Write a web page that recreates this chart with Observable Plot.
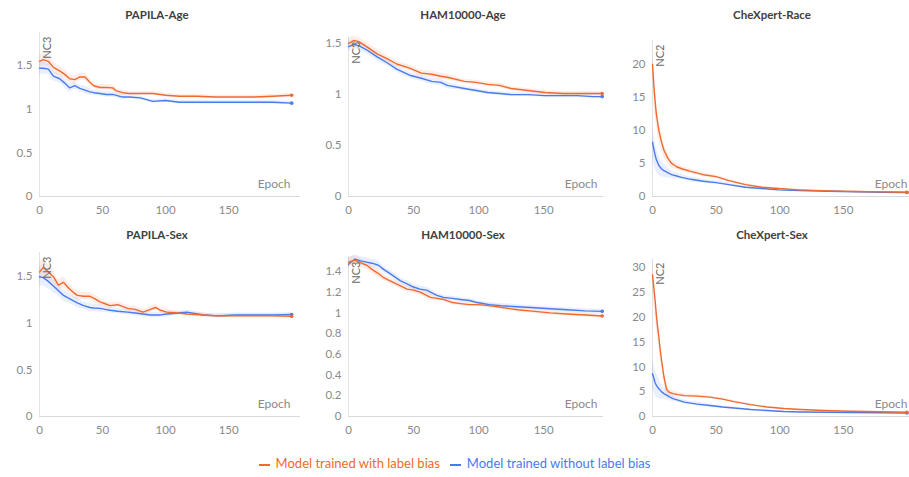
<!DOCTYPE html>
<html>
<head>
<meta charset="utf-8">
<script src="https://cdn.jsdelivr.net/npm/d3@7"></script>
<script src="https://cdn.jsdelivr.net/npm/@observablehq/plot@0.6"></script>
<style>
  html, body { margin: 0; padding: 0; background: #fff; }
  #wrap { position: relative; width: 909px; height: 477px; font-family: Lato, "Open Sans", sans-serif; overflow: hidden; }
  .panel { position: absolute; }
  .title { position: absolute; transform: translateX(-50%); font-weight: bold; font-size: 11.5px; color: #404040; white-space: nowrap; }
  #legend { position: absolute; left: 0; width: 909px; top: 455px; text-align: center; font-size: 13px; white-space: nowrap; }
  #legend span.item { margin: 0 5px; }
  #legend span.dash { display: inline-block; width: 11px; height: 2px; vertical-align: middle; margin-right: 6px; }
</style>
</head>
<body>
<div id="wrap"></div>
<script>
// ---------------- data ----------------
const seriesNames = ["Model trained with label bias", "Model trained without label bias"];
const titles = ["PAPILA-Age", "HAM10000-Age", "CheXpert-Race", "PAPILA-Sex", "HAM10000-Sex", "CheXpert-Sex"];
const yLabels = ["NC3", "NC3", "NC2", "NC3", "NC3", "NC2"];

// PAPILA-Age
const epochsPapilaAge = [0,3,7,11,16,20,24,28,32,36,40,43,48,53,58,61,66,71,80,90,100,111,125,140,156,170,185,200];
const biasPapilaAge   = [1.55,1.57,1.55,1.48,1.44,1.40,1.35,1.34,1.37,1.37,1.31,1.27,1.25,1.25,1.245,1.21,1.19,1.18,1.18,1.18,1.16,1.15,1.15,1.14,1.14,1.14,1.15,1.16];
const cleanPapilaAge  = [1.47,1.47,1.46,1.38,1.35,1.30,1.245,1.27,1.24,1.22,1.20,1.19,1.18,1.17,1.17,1.16,1.14,1.14,1.13,1.09,1.10,1.08,1.08,1.08,1.08,1.08,1.08,1.07];
const spreadPapilaAge = [0.08,0.07,0.06,0.06,0.05,0.05,0.05,0.04,0.04,0.04,0.04,0.03,0.03,0.03,0.03,0.03,0.03,0.02,0.02,0.02,0.02,0.02,0.02,0.02,0.02,0.02,0.02,0.02];

// HAM10000-Age
const epochsHamAge = [0,4,8,15,22,30,37,47,56,64,71,76,89,98,107,116,125,138,151,165,176,188,195];
const biasHamAge   = [1.50,1.53,1.52,1.46,1.40,1.35,1.30,1.26,1.21,1.20,1.18,1.17,1.13,1.12,1.10,1.09,1.06,1.04,1.02,1.01,1.01,1.01,1.01];
const cleanHamAge  = [1.47,1.49,1.48,1.43,1.37,1.31,1.25,1.19,1.16,1.13,1.12,1.09,1.06,1.04,1.02,1.01,1.00,1.00,0.99,0.99,0.99,0.98,0.98];
const spreadHamAge = [0.05,0.04,0.04,0.04,0.04,0.03,0.03,0.03,0.03,0.03,0.03,0.03,0.02,0.02,0.02,0.02,0.02,0.02,0.02,0.02,0.02,0.02,0.02];

// CheXpert-Race
const epochsCheRace = [0,1,2,3,5,7,9,12,15,19,23,30,40,50,60,73,86,99,115,138,160,180,200];
const biasCheRace   = [20,17,14.5,12.5,10,8.3,7,5.8,5.0,4.5,4.2,3.8,3.3,3.0,2.4,1.8,1.4,1.2,1.0,0.85,0.75,0.7,0.65];
const cleanCheRace  = [8.2,7.2,6.3,5.6,4.7,4.2,3.9,3.6,3.3,3.1,2.9,2.6,2.3,2.1,1.8,1.4,1.2,1.0,0.9,0.8,0.7,0.65,0.6];
const spreadCheRace = [2.5,2.2,2.0,1.8,1.5,1.2,1.0,0.8,0.6,0.5,0.4,0.35,0.3,0.25,0.2,0.15,0.12,0.1,0.1,0.08,0.08,0.08,0.08];

// PAPILA-Sex
const epochsPapilaSex = [0,3,7,11,15,19,23,27,30,35,40,43,48,52,56,62,70,76,82,88,92,96,101,110,117,130,141,155,167,185,200];
const biasPapilaSex   = [1.55,1.60,1.55,1.50,1.41,1.44,1.38,1.33,1.30,1.29,1.29,1.27,1.23,1.21,1.19,1.20,1.16,1.15,1.12,1.15,1.17,1.14,1.12,1.11,1.10,1.09,1.08,1.08,1.08,1.08,1.075];
const cleanPapilaSex  = [1.50,1.49,1.45,1.40,1.35,1.30,1.27,1.24,1.22,1.19,1.17,1.165,1.16,1.15,1.14,1.13,1.12,1.11,1.10,1.09,1.09,1.09,1.10,1.11,1.12,1.09,1.08,1.09,1.09,1.09,1.095];
const spreadPapilaSex = [0.10,0.09,0.08,0.07,0.06,0.06,0.05,0.05,0.05,0.04,0.04,0.04,0.04,0.03,0.03,0.03,0.03,0.03,0.03,0.03,0.03,0.03,0.03,0.02,0.02,0.02,0.02,0.02,0.02,0.02,0.02];

// HAM10000-Sex
const epochsHamSex = [0,5,10,14,18,23,27,32,40,45,50,55,60,63,68,73,80,86,93,99,108,117,130,143,155,168,182,195];
const biasHamSex   = [1.49,1.51,1.48,1.46,1.42,1.38,1.34,1.31,1.26,1.23,1.22,1.20,1.17,1.15,1.14,1.13,1.10,1.09,1.08,1.08,1.07,1.055,1.03,1.015,1.00,0.99,0.98,0.97];
const cleanHamSex  = [1.47,1.52,1.50,1.49,1.48,1.46,1.42,1.38,1.31,1.28,1.25,1.23,1.22,1.20,1.17,1.15,1.14,1.13,1.12,1.10,1.08,1.07,1.06,1.05,1.04,1.03,1.02,1.015];
const spreadHamSex = [0.05,0.04,0.04,0.04,0.04,0.04,0.03,0.03,0.03,0.03,0.03,0.03,0.03,0.03,0.02,0.02,0.02,0.02,0.02,0.02,0.02,0.02,0.02,0.02,0.02,0.02,0.02,0.02];

// CheXpert-Sex
const epochsCheSex = [0,1,2,3,4,5,6,7,9,11,13,16,20,25,35,45,55,64,77,90,103,116,135,155,178,200];
const biasCheSex   = [28.5,26,23.5,20.5,18,16,13.5,11.5,8,5.5,4.9,4.6,4.4,4.2,4.1,3.9,3.5,3.0,2.4,1.9,1.6,1.4,1.2,1.07,0.95,0.87];
const cleanCheSex  = [8.6,7.8,6.8,6.3,5.9,5.6,5.3,5.0,4.6,4.3,4.0,3.6,3.3,2.9,2.5,2.2,1.9,1.7,1.4,1.2,1.0,0.9,0.85,0.8,0.75,0.7];
const spreadCheSex = [3,2.8,2.6,2.4,2.2,2,1.8,1.5,1.2,1.0,0.8,0.6,0.5,0.4,0.35,0.3,0.25,0.2,0.15,0.12,0.1,0.1,0.08,0.08,0.08,0.08];

const yTicksSmall = [0, 0.5, 1, 1.5];
const yTicksHamSex = [0, 0.2, 0.4, 0.6, 0.8, 1, 1.2, 1.4];
const yTicksCheRace = [0, 5, 10, 15, 20];
const yTicksCheSex = [0, 5, 10, 15, 20, 25, 30];
const xTicks = [0, 50, 100, 150];

// ---------------- layout ----------------
const ORANGE = "#EE6A2E";
const BLUE = "#4A7BEB";

const panels = [
  {epochs: epochsPapilaAge, bias: biasPapilaAge, clean: cleanPapilaAge, spread: spreadPapilaAge, yTicks: yTicksSmall,
   left: 0, top: 0, ml: 39, mr: 3, mt: 32, xMax: 207, yMax: 1.88, titleX: 157, epochDx: -10},
  {epochs: epochsHamAge, bias: biasHamAge, clean: cleanHamAge, spread: spreadHamAge, yTicks: yTicksSmall,
   left: 303, top: 0, ml: 45, mr: 3, mt: 37, xMax: 196, yMax: 1.56, titleX: 463, epochDx: -6},
  {epochs: epochsCheRace, bias: biasCheRace, clean: cleanCheRace, spread: spreadCheRace, yTicks: yTicksCheRace,
   left: 606, top: 0, ml: 46, mr: 0, mt: 40, xMax: 202, yMax: 23.6, titleX: 772, epochDx: -2},
  {epochs: epochsPapilaSex, bias: biasPapilaSex, clean: cleanPapilaSex, spread: spreadPapilaSex, yTicks: yTicksSmall,
   left: 0, top: 220, ml: 39, mr: 3, mt: 32, xMax: 207, yMax: 1.76, titleX: 157, epochDx: -10},
  {epochs: epochsHamSex, bias: biasHamSex, clean: cleanHamSex, spread: spreadHamSex, yTicks: yTicksHamSex,
   left: 303, top: 220, ml: 45, mr: 3, mt: 37, xMax: 196, yMax: 1.535, titleX: 463, epochDx: -6},
  {epochs: epochsCheSex, bias: biasCheSex, clean: cleanCheSex, spread: spreadCheSex, yTicks: yTicksCheSex,
   left: 606, top: 220, ml: 46, mr: 0, mt: 38, xMax: 202, yMax: 31.8, titleX: 772, epochDx: -2}
];

const wrap = document.getElementById("wrap");

panels.forEach((p, i) => {
  const rows = p.epochs.map((e, k) => ({epoch: e, bias: p.bias[k], clean: p.clean[k], s: p.spread[k]}));
  const last = rows[rows.length - 1];
  const chart = Plot.plot({
    width: 303,
    height: 222,
    marginLeft: p.ml,
    marginRight: p.mr,
    marginTop: p.mt,
    marginBottom: 26,
    style: {fontFamily: "Lato, 'Open Sans', sans-serif", fontSize: "11.5px", color: "#8a8a8a", background: "transparent", overflow: "visible"},
    x: {domain: [0, p.xMax], ticks: xTicks, tickSize: 0, tickPadding: 9, label: null, tickFormat: d => String(d)},
    y: {domain: [0, p.yMax], ticks: p.yTicks, tickSize: 0, tickPadding: 7, label: null, tickFormat: d => String(d)},
    marks: [
      Plot.ruleY([0], {stroke: "#d9d9d9", strokeWidth: 1}),
      Plot.ruleX([0], {stroke: "#e3e3e3", strokeWidth: 1}),
      Plot.areaY(rows, {x: "epoch", y1: d => Math.max(0, d.clean - d.s), y2: d => d.clean + d.s, fill: BLUE, fillOpacity: 0.12, curve: "monotone-x"}),
      Plot.areaY(rows, {x: "epoch", y1: d => Math.max(0, d.bias - d.s), y2: d => d.bias + d.s, fill: ORANGE, fillOpacity: 0.12, curve: "monotone-x"}),
      Plot.lineY(rows, {x: "epoch", y: "clean", stroke: BLUE, strokeWidth: 1.4}),
      Plot.lineY(rows, {x: "epoch", y: "bias", stroke: ORANGE, strokeWidth: 1.4}),
      Plot.dot([last], {x: "epoch", y: "clean", fill: BLUE, r: 1.8}),
      Plot.dot([last], {x: "epoch", y: "bias", fill: ORANGE, r: 1.8}),
      Plot.text([yLabels[i]], {frameAnchor: "top-left", rotate: -90, textAnchor: "end", dx: 4, dy: 4, fill: "#6a6a6a", fontSize: 11}),
      Plot.text(["Epoch"], {frameAnchor: "bottom-right", textAnchor: "end", dx: p.epochDx, dy: -9, fill: "#8a8a8a", fontSize: 12})
    ]
  });
  const holder = document.createElement("div");
  holder.className = "panel";
  holder.style.left = p.left + "px";
  holder.style.top = p.top + "px";
  holder.appendChild(chart);
  wrap.appendChild(holder);

  const t = document.createElement("div");
  t.className = "title";
  t.textContent = titles[i];
  t.style.left = p.titleX + "px";
  t.style.top = (p.top + 8) + "px";
  wrap.appendChild(t);
});

const legend = document.createElement("div");
legend.id = "legend";
[[seriesNames[0], ORANGE], [seriesNames[1], BLUE]].forEach(([name, color]) => {
  const item = document.createElement("span");
  item.className = "item";
  item.style.color = color;
  const dash = document.createElement("span");
  dash.className = "dash";
  dash.style.background = color;
  item.appendChild(dash);
  item.appendChild(document.createTextNode(name));
  legend.appendChild(item);
});
wrap.appendChild(legend);
</script>
</body>
</html>
